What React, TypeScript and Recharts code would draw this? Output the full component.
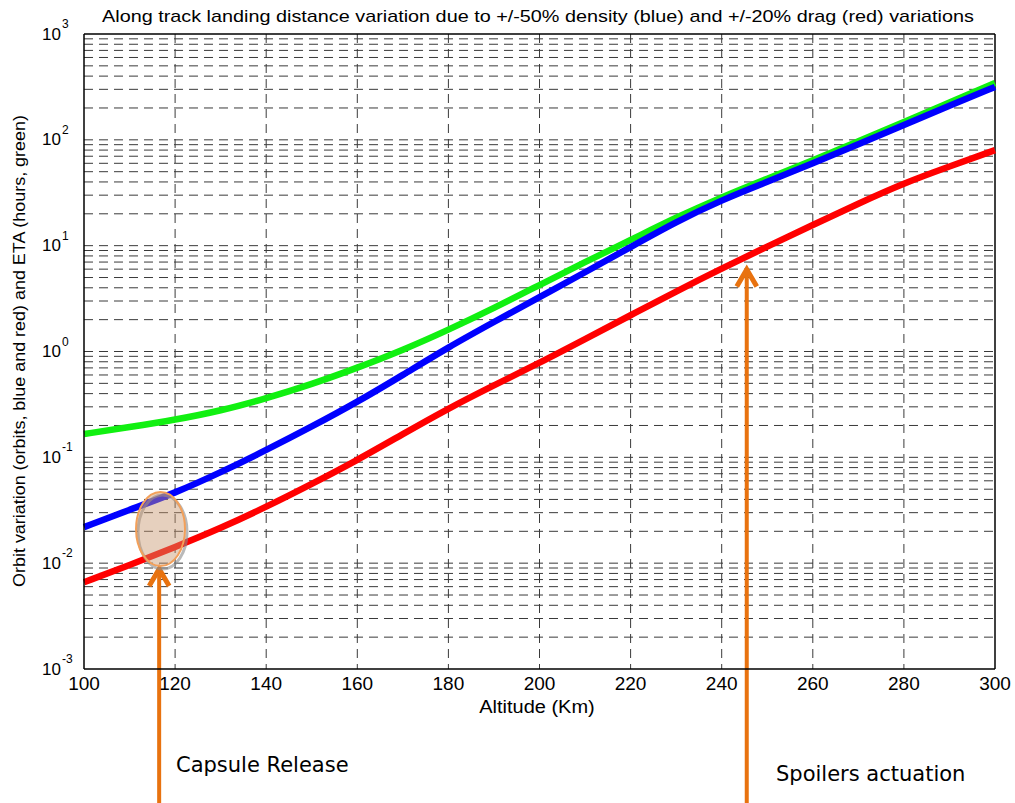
import React from "react";
import {
  LineChart,
  Line,
  XAxis,
  YAxis,
  CartesianGrid,
  ReferenceLine,
  ReferenceDot,
} from "recharts";

// altitude (km)
const altitudes = [100, 110, 120, 130, 140, 150, 160, 170, 180, 190, 200, 210, 220, 230, 240, 250, 260, 270, 280, 290, 300];
// ETA in hours (green)
const etaHours = [0.166, 0.193, 0.226, 0.275, 0.36, 0.49, 0.7, 1.03, 1.6, 2.57, 4.25, 7.0, 11.3, 18.5, 28.8, 43, 64, 97, 147, 225, 344];
// orbit variation from +/-50% density (blue)
const densityVar = [0.0219, 0.032, 0.046, 0.072, 0.117, 0.195, 0.333, 0.6, 1.1, 1.9, 3.27, 5.6, 9.7, 16.8, 27, 40, 60, 91, 138, 210, 316];
// orbit variation from +/-20% drag (red)
const dragVar = [0.0066, 0.0096, 0.0142, 0.0214, 0.034, 0.056, 0.094, 0.166, 0.29, 0.48, 0.78, 1.31, 2.2, 3.7, 6.1, 9.8, 15.7, 25, 39, 56, 80];

const xTicks = [100, 120, 140, 160, 180, 200, 220, 240, 260, 280, 300];
const yTicks = [0.001, 0.01, 0.1, 1, 10, 100, 1000];
const decades = [-3, -2, -1, 0, 1, 2];
const mantissas = [1, 2, 3, 4, 5, 6, 7, 8, 9];

// annotations
const capsuleAlt = 116.5;
const capsuleTip = 0.0096;
const spoilerAlt = 245.5;
const spoilerTip = 6.5;
const arrowBase = 0.00005;
const circleAlt = 116.8;
const circleVal = 0.021;

const data = altitudes.map((a, i) => ({
  alt: a,
  eta: etaHours[i],
  dens: densityVar[i],
  drag: dragVar[i],
}));

const minorGrid: number[] = [];
decades.forEach((d) => {
  mantissas.forEach((m) => {
    const v = m * Math.pow(10, d);
    if (v > 0.001 && v < 1000) minorGrid.push(Number(v.toPrecision(3)));
  });
});

const ORANGE = "#e8720f";
const FONT = "'Liberation Sans', Arial, sans-serif";

const YTick = (props: any) => {
  const { x, y, payload } = props;
  const exp = Math.round(Math.log10(payload.value));
  return (
    <g>
      <text x={x - 15} y={y} textAnchor="end" dominantBaseline="central" fontSize={17} fontFamily={FONT} fill="#000">
        10
      </text>
      <text x={x - 14} y={y - 10} textAnchor="start" dominantBaseline="central" fontSize={12} fontFamily={FONT} fill="#000">
        {exp}
      </text>
    </g>
  );
};

const Arrow = (props: any) => {
  const { x1, y1, y2 } = props;
  const tip = Math.min(y1, y2);
  const base = Math.max(y1, y2);
  return (
    <g>
      <line x1={x1} y1={base} x2={x1} y2={tip + 4} stroke={ORANGE} strokeWidth={4} />
      <polyline
        points={`${x1 - 10},${tip + 21} ${x1},${tip + 4} ${x1 + 10},${tip + 21}`}
        fill="none"
        stroke={ORANGE}
        strokeWidth={5}
      />
    </g>
  );
};

const Bubble = (props: any) => {
  const { cx, cy } = props;
  return (
    <g>
      <ellipse cx={cx + 2} cy={cy + 3} rx={24.5} ry={37} fill="none" stroke="#8a8a8a" strokeWidth={3} opacity={0.6} />
      <ellipse cx={cx} cy={cy} rx={24.5} ry={37} fill="rgba(200,150,110,0.45)" stroke="#f3a05a" strokeWidth={2} />
    </g>
  );
};

// text box centred at (cx, cy), stretched horizontally like the source image
const Label = ({ cx, cy, size, sx = 1, rotate = 0, children }: any) => (
  <div
    style={{
      position: "absolute",
      left: cx,
      top: cy,
      transform: `translate(-50%, -50%) rotate(${rotate}deg) scaleX(${sx})`,
      fontFamily: FONT,
      fontSize: size,
      lineHeight: `${size + 2}px`,
      color: "#000",
      whiteSpace: "nowrap",
    }}
  >
    {children}
  </div>
);

export default function App() {
  return (
    <div style={{ position: "absolute", left: 0, top: 0, width: 1015, height: 803, background: "#fff" }}>
      <LineChart width={1015} height={803} data={data} margin={{ top: 34, right: 20, bottom: 104, left: 0 }}>
        <CartesianGrid
          horizontalValues={minorGrid}
          verticalValues={xTicks.slice(1, -1)}
          stroke="#3a3a3a"
          strokeDasharray="9 6"
        />
        <XAxis
          type="number"
          dataKey="alt"
          domain={[100, 300]}
          ticks={xTicks}
          tickLine={false}
          axisLine={{ stroke: "#000", strokeWidth: 1.5 }}
          tick={{ fill: "#000", fontSize: 19, fontFamily: FONT }}
          interval={0}
        />
        <YAxis
          type="number"
          scale="log"
          domain={[0.001, 1000]}
          allowDataOverflow
          ticks={yTicks}
          width={84}
          tickLine={false}
          axisLine={{ stroke: "#000", strokeWidth: 1.5 }}
          tick={<YTick />}
          interval={0}
        />
        <ReferenceLine y={1000} stroke="#000" strokeWidth={1.5} />
        <ReferenceLine x={300} stroke="#000" strokeWidth={1.5} />
        <Line type="basis" dataKey="eta" stroke="#11f011" strokeWidth={6.5} dot={false} isAnimationActive={false} />
        <Line type="basis" dataKey="dens" stroke="#0000ff" strokeWidth={6.5} dot={false} isAnimationActive={false} />
        <Line type="basis" dataKey="drag" stroke="#ff0000" strokeWidth={6.5} dot={false} isAnimationActive={false} />
        <ReferenceDot x={circleAlt} y={circleVal} ifOverflow="visible" shape={<Bubble />} />
        <ReferenceLine
          segment={[
            { x: capsuleAlt, y: arrowBase },
            { x: capsuleAlt, y: capsuleTip },
          ]}
          ifOverflow="visible"
          shape={<Arrow />}
        />
        <ReferenceLine
          segment={[
            { x: spoilerAlt, y: arrowBase },
            { x: spoilerAlt, y: spoilerTip },
          ]}
          ifOverflow="visible"
          shape={<Arrow />}
        />
      </LineChart>
      <Label cx={538} cy={16} size={17} sx={1.165}>
        Along track landing distance variation due to +/-50% density (blue) and +/-20% drag (red) variations
      </Label>
      <Label cx={537} cy={707} size={18} sx={1.11}>
        Altitude (Km)
      </Label>
      <Label cx={20} cy={351} size={16} sx={1.12} rotate={-90}>
        Orbit variation (orbits, blue and red) and ETA (hours, green)
      </Label>
      <div
        style={{
          position: "absolute",
          left: 176,
          top: 755,
          fontFamily: "'DejaVu Sans', sans-serif",
          fontSize: 21,
          lineHeight: "21px",
          color: "#000",
          whiteSpace: "nowrap",
        }}
      >
        Capsule Release
      </div>
      <div
        style={{
          position: "absolute",
          left: 776,
          top: 764,
          fontFamily: "'DejaVu Sans', sans-serif",
          fontSize: 21,
          lineHeight: "21px",
          color: "#000",
          whiteSpace: "nowrap",
        }}
      >
        Spoilers actuation
      </div>
    </div>
  );
}
